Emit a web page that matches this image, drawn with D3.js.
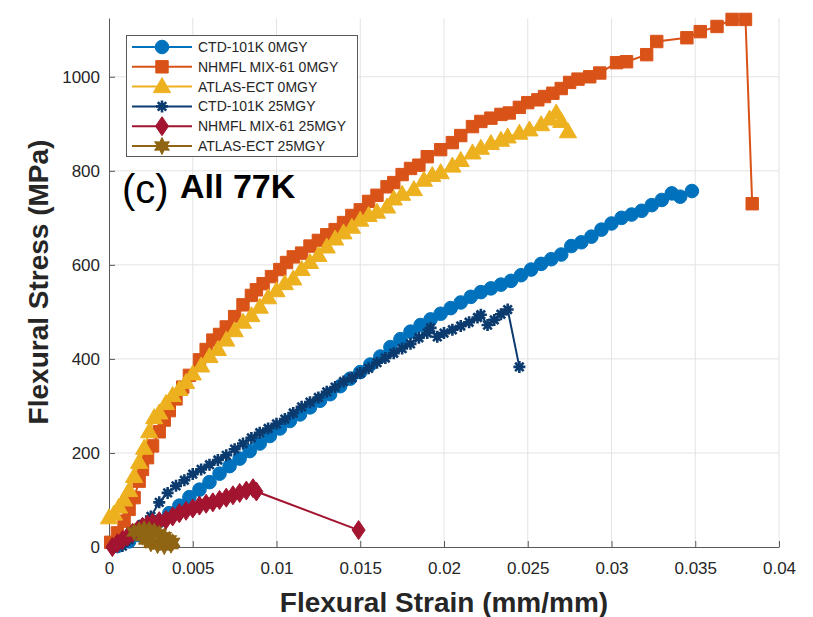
<!DOCTYPE html>
<html>
<head>
<meta charset="utf-8">
<script src="https://cdn.jsdelivr.net/npm/d3@7"></script>
<style>
  html, body { margin: 0; padding: 0; background: #fff; }
  svg { display: block; font-family: "Liberation Sans", Arial, Helvetica, sans-serif; }
</style>
</head>
<body>
<svg id="chart" width="813" height="617"></svg>
<script>
// Flexural stress–strain curves at 77 K, before and after 25 MGy irradiation.
const xTickValues = [0, 0.005, 0.01, 0.015, 0.02, 0.025, 0.03, 0.035, 0.04];
const xTickLabels = ["0", "0.005", "0.01", "0.015", "0.02", "0.025", "0.03", "0.035", "0.04"];
const yTickValues = [0, 200, 400, 600, 800, 1000];
const yTickLabels = ["0", "200", "400", "600", "800", "1000"];

const seriesNames = [
  "CTD-101K 0MGY", "NHMFL MIX-61 0MGY", "ATLAS-ECT 0MGY",
  "CTD-101K 25MGY", "NHMFL MIX-61 25MGY", "ATLAS-ECT 25MGY"
];

// [strain (mm/mm), stress (MPa)]
const ctd0 = [
  [0.0005,2],[0.0012,12],[0.0018,25],[0.0024,40],[0.003,55],[0.0036,72],[0.0042,88],[0.0048,106],
  [0.0054,122],[0.006,138],[0.0066,156],[0.0072,172],[0.0078,188],[0.0084,204],[0.009,220],[0.0096,236],
  [0.0102,252],[0.0108,268],[0.0114,282],[0.012,297],[0.0126,311],[0.0132,325],[0.0138,342],[0.0144,358],
  [0.015,372],[0.0156,388],[0.0162,405],[0.0168,425],[0.0174,442],[0.018,458],[0.0186,472],[0.0192,484],
  [0.0198,496],[0.0204,508],[0.021,520],[0.0216,532],[0.0222,542],[0.0228,550],[0.0234,558],[0.024,566],
  [0.0246,578],[0.0252,590],[0.0258,602],[0.0264,612],[0.027,622],[0.0276,640],[0.0282,648],[0.0288,660],
  [0.0294,675],[0.03,688],[0.0306,700],[0.0312,707],[0.0318,715],[0.0324,727],[0.033,738],[0.0336,752],
  [0.0341,745],[0.0348,757]
];
const nhmfl0 = [
  [0.0001,10],[0.0005,30],[0.0009,55],[0.0012,80],[0.0015,105],[0.0018,140],[0.002,165],[0.0023,190],
  [0.0026,215],[0.003,245],[0.0033,270],[0.0036,290],[0.004,315],[0.0044,340],[0.0048,365],[0.0054,398],
  [0.0058,420],[0.0062,440],[0.0066,452],[0.007,468],[0.0075,490],[0.008,515],[0.0085,535],[0.0088,547],
  [0.0092,560],[0.0097,575],[0.0102,590],[0.0106,605],[0.011,617],[0.0115,625],[0.012,640],[0.0125,652],
  [0.013,664],[0.0135,675],[0.014,690],[0.0145,705],[0.015,717],[0.0155,735],[0.016,748],[0.0166,766],
  [0.017,775],[0.0175,792],[0.018,805],[0.0185,812],[0.019,830],[0.0198,845],[0.0205,860],[0.021,875],
  [0.0217,894],[0.0222,905],[0.0228,912],[0.0234,920],[0.0239,923],[0.0245,935],[0.025,945],[0.0256,951],
  [0.026,958],[0.0265,965],[0.027,975],[0.0275,988],[0.028,995],[0.0287,1000],[0.0293,1008],[0.0303,1030],
  [0.0309,1032],[0.0321,1047],[0.0327,1075],[0.0345,1083],[0.0353,1096],[0.0363,1107],[0.0372,1122],
  [0.038,1122],[0.0384,730]
];
const atlas0 = [
  [0.0,62],[0.0003,70],[0.0006,85],[0.0009,100],[0.0012,120],[0.0015,150],[0.0018,180],[0.0021,210],
  [0.0024,245],[0.0027,275],[0.003,285],[0.0034,305],[0.0038,322],[0.0042,335],[0.0046,350],[0.005,368],
  [0.0055,385],[0.006,405],[0.0065,420],[0.007,440],[0.0075,460],[0.008,478],[0.0085,492],[0.009,510],
  [0.0095,530],[0.01,545],[0.0105,560],[0.011,570],[0.0115,590],[0.012,605],[0.0125,620],[0.013,638],
  [0.0135,655],[0.014,668],[0.0145,680],[0.015,695],[0.0155,705],[0.016,712],[0.0166,723],[0.017,740],
  [0.0175,750],[0.0182,760],[0.0188,780],[0.0193,790],[0.0198,796],[0.0205,810],[0.021,822],[0.0217,838],
  [0.0222,848],[0.0228,858],[0.0234,865],[0.0238,872],[0.0245,880],[0.0251,887],[0.0258,898],[0.0263,910],
  [0.0267,923],[0.027,905],[0.0274,883]
];
const ctd25 = [
  [0.0008,2],[0.0012,15],[0.0016,30],[0.002,48],[0.0025,65],[0.003,95],[0.0035,115],[0.004,130],
  [0.0045,142],[0.005,155],[0.0055,165],[0.006,175],[0.0065,185],[0.007,195],[0.0075,208],[0.008,220],
  [0.0085,232],[0.009,243],[0.0095,252],[0.01,262],[0.0105,272],[0.011,285],[0.0115,298],[0.012,308],
  [0.0125,318],[0.013,330],[0.0135,340],[0.014,352],[0.0145,360],[0.015,370],[0.0155,380],[0.016,392],
  [0.0165,402],[0.017,412],[0.0175,422],[0.018,432],[0.0185,445],[0.019,455],[0.0192,466],[0.0196,447],
  [0.02,455],[0.0205,462],[0.021,470],[0.0215,478],[0.022,488],[0.0222,494],[0.0226,472],[0.023,483],
  [0.0234,495],[0.0238,505],[0.0245,383]
];
const nhmfl25 = [
  [0.0002,0],[0.0005,8],[0.0008,15],[0.0011,22],[0.0014,30],[0.0017,36],[0.002,43],[0.0023,48],
  [0.0026,52],[0.003,55],[0.0034,58],[0.0038,65],[0.0042,72],[0.0046,77],[0.005,82],[0.0054,88],
  [0.0058,92],[0.0062,95],[0.0066,100],[0.007,105],[0.0074,110],[0.0078,115],[0.0082,120],[0.0086,125],
  [0.0088,118],[0.0149,36]
];
const atlas25 = [
  [0.0015,32],[0.0018,35],[0.0021,38],[0.0024,36],[0.0027,33],[0.003,28],[0.0033,22],[0.0036,15],
  [0.0038,10],[0.0037,5],[0.0033,2],[0.0029,4],[0.0025,8],[0.0022,15],[0.002,22]
];

const seriesColors = ["#0072BD", "#D95319", "#EDB120", "#0B3A6E", "#A2142F", "#8F6413"];
const seriesMarkers = ["circle", "square", "triangle", "asterisk", "diamond", "hexagram"];
const seriesData = [ctd0, nhmfl0, atlas0, ctd25, nhmfl25, atlas25];

const svg = d3.select("#chart");
const x = d3.scaleLinear().domain([0, 0.04]).range([109, 779]);
const y = d3.scaleLinear().domain([0, 1125]).range([547, 18]);

// marker outlines, drawn with d3.path
function markerPath(kind) {
  const p = d3.path();
  if (kind === "circle") {
    p.arc(0, 0, 6.8, 0, 2 * Math.PI); p.closePath();
  } else if (kind === "square") {
    p.rect(-6.2, -6.2, 12.4, 12.4);
  } else if (kind === "triangle") {
    p.moveTo(0, -9); p.lineTo(8.6, 6); p.lineTo(-8.6, 6); p.closePath();
  } else if (kind === "diamond") {
    p.moveTo(0, -9.5); p.lineTo(6.5, 0); p.lineTo(0, 9.5); p.lineTo(-6.5, 0); p.closePath();
  } else if (kind === "hexagram") {
    for (let i = 0; i < 12; i++) {
      const a = -Math.PI / 2 + i * Math.PI / 6;
      const r = i % 2 === 0 ? 8.5 : 4.6;
      if (i === 0) p.moveTo(r * Math.cos(a), r * Math.sin(a)); else p.lineTo(r * Math.cos(a), r * Math.sin(a));
    }
    p.closePath();
  } else if (kind === "asterisk") {
    const r = 6;
    for (let i = 0; i < 4; i++) {
      const a = i * Math.PI / 4;
      p.moveTo(-r * Math.cos(a), -r * Math.sin(a));
      p.lineTo(r * Math.cos(a), r * Math.sin(a));
    }
  }
  return p.toString();
}

// grid
const grid = svg.append("g").attr("class", "grid");
grid.selectAll("line.gx").data(xTickValues.slice(1)).join("line")
  .attr("x1", d => x(d)).attr("x2", d => x(d)).attr("y1", y(0)).attr("y2", y(1125))
  .attr("stroke", "#e3e3e3").attr("stroke-width", 1);
grid.selectAll("line.gy").data(yTickValues.slice(1)).join("line")
  .attr("x1", x(0)).attr("x2", x(0.04)).attr("y1", d => y(d)).attr("y2", d => y(d))
  .attr("stroke", "#e3e3e3").attr("stroke-width", 1);

// axes
const xAxis = d3.axisBottom(x).tickValues(xTickValues)
  .tickFormat((d, i) => xTickLabels[i]).tickSizeInner(-6).tickSizeOuter(0).tickPadding(15);
const yAxis = d3.axisLeft(y).tickValues(yTickValues)
  .tickFormat((d, i) => yTickLabels[i]).tickSizeInner(-6).tickSizeOuter(0).tickPadding(9);

const gx = svg.append("g").attr("transform", `translate(0,${y(0)})`).call(xAxis);
const gy = svg.append("g").attr("transform", `translate(${x(0)},0)`).call(yAxis);
[gx, gy].forEach(g => {
  g.select(".domain").attr("stroke", "#5a5a5a").attr("stroke-width", 1);
  g.selectAll(".tick line").attr("stroke", "#5a5a5a");
  g.selectAll(".tick text").attr("fill", "#262626").attr("font-size", 17)
    .attr("font-family", "'Liberation Sans', Arial, sans-serif");
});

// series: connecting line first, markers on top
const line = d3.line().x(d => x(d[0])).y(d => y(d[1]));
seriesData.forEach((data, i) => {
  const g = svg.append("g").attr("class", "series");
  g.append("path").datum(data).attr("d", line)
    .attr("fill", "none").attr("stroke", seriesColors[i]).attr("stroke-width", 2);
  const isAst = seriesMarkers[i] === "asterisk";
  g.selectAll("path.m").data(data).join("path").attr("class", "m")
    .attr("transform", d => `translate(${x(d[0])},${y(d[1])})`)
    .attr("d", markerPath(seriesMarkers[i]))
    .attr("fill", isAst ? "none" : seriesColors[i])
    .attr("stroke", seriesColors[i])
    .attr("stroke-width", isAst ? 2.6 : 1);
});

// panel label
svg.append("text").attr("x", 122).attr("y", 203).attr("font-size", 40)
  .attr("fill", "#000").text("(c)");
svg.append("text").attr("x", 180).attr("y", 198).attr("font-size", 34).attr("font-weight", "bold")
  .attr("fill", "#000").text("All 77K");

// legend
const lg = svg.append("g").attr("class", "legend");
lg.append("rect").attr("x", 126.5).attr("y", 35.5).attr("width", 231).attr("height", 121)
  .attr("fill", "#fff").attr("stroke", "#5a5a5a").attr("stroke-width", 1);
seriesNames.forEach((name, i) => {
  const ly = 47 + i * 19.8;
  lg.append("line").attr("x1", 132).attr("x2", 192).attr("y1", ly).attr("y2", ly)
    .attr("stroke", seriesColors[i]).attr("stroke-width", 2);
  const isAst = seriesMarkers[i] === "asterisk";
  lg.append("path").attr("transform", `translate(162,${ly})`).attr("d", markerPath(seriesMarkers[i]))
    .attr("fill", isAst ? "none" : seriesColors[i]).attr("stroke", seriesColors[i])
    .attr("stroke-width", isAst ? 2.6 : 1);
  lg.append("text").attr("x", 198).attr("y", ly).attr("dy", "0.35em")
    .attr("font-size", 14).attr("fill", "#262626").text(name);
});

// axis titles
svg.append("text").attr("x", 444).attr("y", 612).attr("text-anchor", "middle")
  .attr("font-size", 28).attr("font-weight", "bold").attr("fill", "#262626")
  .text("Flexural Strain (mm/mm)");
svg.append("text").attr("transform", "translate(48,282) rotate(-90)").attr("text-anchor", "middle")
  .attr("font-size", 28).attr("font-weight", "bold").attr("fill", "#262626")
  .text("Flexural Stress (MPa)");
</script>
</body>
</html>
